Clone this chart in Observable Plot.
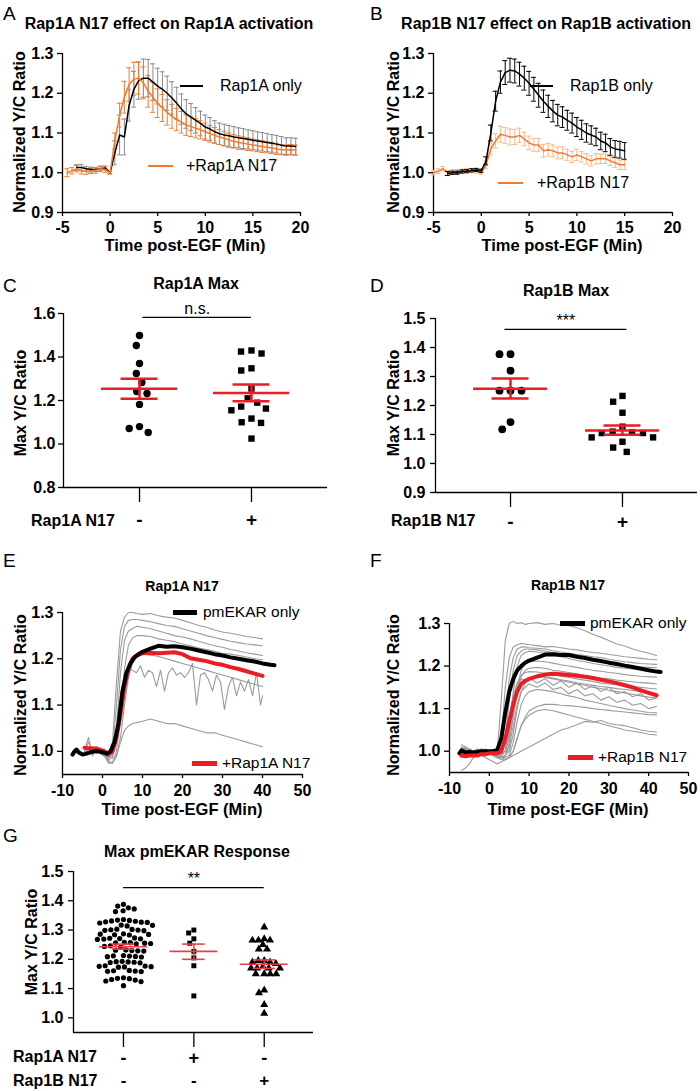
<!DOCTYPE html>
<html><head><meta charset="utf-8">
<script src="https://cdn.jsdelivr.net/npm/d3@7"></script>
<script src="https://cdn.jsdelivr.net/npm/@observablehq/plot@0.6"></script>
<style>
body{margin:0;background:#fff;}
#fig{position:relative;width:700px;height:1091px;background:#fff;font-family:"Liberation Sans",Arial,Helvetica,sans-serif;color:#000;overflow:hidden;}
.t{position:absolute;white-space:nowrap;transform:translate(-50%,-50%);line-height:1;}
.yl{position:absolute;white-space:nowrap;transform:translate(-50%,-50%) rotate(-90deg);line-height:1;font-weight:bold;font-size:16px;}
.lt{position:absolute;white-space:nowrap;transform:translate(0,-50%);line-height:1;}
</style></head><body><div id="fig"></div>
<script>
// ---------------- DATA ----------------
// Panel A: Rap1A only (black) and +Rap1A N17 (orange), mean ± SEM
const tA1 = [-3.5,-3,-2.5,-2,-1.5,-1,-0.5,0,0.5,1,1.5,2,2.5,3,3.5,4,4.5,5,5.5,6,6.5,7,7.5,8,8.5,9,9.5,10,10.5,11,11.5,12,12.5,13,13.5,14,14.5,15,15.5,16,16.5,17,17.5,18,18.5,19,19.5];
const yA1 = [1.013,1.013,1.01,1.008,1.008,1.01,1.012,1.0,1.05,1.095,1.09,1.17,1.21,1.232,1.238,1.238,1.228,1.218,1.21,1.2,1.188,1.175,1.16,1.148,1.14,1.132,1.124,1.115,1.11,1.103,1.098,1.095,1.093,1.09,1.088,1.086,1.084,1.082,1.08,1.078,1.076,1.074,1.072,1.069,1.067,1.067,1.066];
const eA1 = [0.007,0.008,0.006,0.006,0.005,0.005,0.005,0.003,0.03,0.05,0.045,0.04,0.045,0.047,0.048,0.047,0.046,0.045,0.044,0.043,0.041,0.04,0.038,0.036,0.034,0.032,0.031,0.03,0.029,0.028,0.027,0.027,0.026,0.026,0.025,0.025,0.024,0.024,0.023,0.023,0.023,0.022,0.022,0.022,0.021,0.021,0.021];
const tA2 = [-4.5,-4,-3.5,-3,-2.5,-2,-1.5,-1,-0.5,0,0.5,1,1.5,2,2.5,3,3.5,4,4.5,5,5.5,6,6.5,7,7.5,8,8.5,9,9.5,10,10.5,11,11.5,12,12.5,13,13.5,14,14.5,15,15.5,16,16.5,17,17.5,18,18.5,19,19.5];
const yA2 = [1.0,1.005,1.01,1.005,1.003,1.005,1.006,1.01,1.008,1.0,1.08,1.145,1.19,1.222,1.236,1.238,1.226,1.205,1.19,1.175,1.163,1.152,1.142,1.134,1.127,1.12,1.116,1.112,1.108,1.103,1.098,1.094,1.09,1.086,1.082,1.079,1.076,1.074,1.072,1.07,1.068,1.066,1.064,1.062,1.06,1.058,1.057,1.058,1.057];
const eA2 = [0.01,0.008,0.008,0.008,0.007,0.007,0.007,0.007,0.007,0.003,0.02,0.03,0.04,0.042,0.042,0.04,0.04,0.04,0.038,0.036,0.034,0.032,0.03,0.028,0.027,0.026,0.025,0.024,0.023,0.022,0.021,0.02,0.019,0.018,0.018,0.017,0.017,0.016,0.016,0.015,0.015,0.015,0.014,0.014,0.014,0.013,0.013,0.013,0.013];
// Panel B: Rap1B only (black) and +Rap1B N17 (orange)
const tB1 = [-3.5,-3,-2.5,-2,-1.5,-1,-0.5,0,0.5,1,1.5,2,2.5,3,3.5,4,4.5,5,5.5,6,6.5,7,7.5,8,8.5,9,9.5,10,10.5,11,11.5,12,12.5,13,13.5,14,14.5,15];
const yB1 = [0.998,1.0,1.0,1.003,1.004,1.006,1.007,1.005,1.03,1.1,1.18,1.228,1.252,1.258,1.256,1.248,1.238,1.225,1.21,1.195,1.18,1.167,1.155,1.145,1.14,1.132,1.125,1.115,1.108,1.1,1.095,1.09,1.08,1.075,1.065,1.06,1.058,1.055];
const eB1 = [0.005,0.004,0.004,0.004,0.004,0.004,0.004,0.004,0.01,0.02,0.025,0.028,0.03,0.03,0.03,0.03,0.03,0.03,0.03,0.03,0.028,0.028,0.027,0.027,0.026,0.025,0.025,0.024,0.024,0.023,0.023,0.022,0.022,0.022,0.021,0.021,0.021,0.021];
const tB2 = [-5,-4.5,-4,-3.5,-3,-2.5,-2,-1.5,-1,-0.5,0,0.5,1,1.5,2,2.5,3,3.5,4,4.5,5,5.5,6,6.5,7,7.5,8,8.5,9,9.5,10,10.5,11,11.5,12,12.5,13,13.5,14,14.5,15];
const yB2 = [1.0,1.004,1.01,1.0,1.002,1.003,1.004,1.005,1.005,1.004,1.0,1.02,1.06,1.08,1.097,1.094,1.09,1.09,1.094,1.085,1.075,1.07,1.07,1.055,1.058,1.055,1.05,1.05,1.045,1.04,1.045,1.04,1.035,1.03,1.035,1.035,1.035,1.03,1.025,1.02,1.02];
const eB2 = [0.006,0.006,0.006,0.006,0.006,0.005,0.005,0.005,0.005,0.005,0.004,0.01,0.015,0.018,0.02,0.02,0.02,0.019,0.018,0.017,0.017,0.016,0.016,0.016,0.016,0.015,0.015,0.015,0.014,0.014,0.014,0.013,0.013,0.013,0.013,0.012,0.012,0.012,0.012,0.012,0.012];

// Panels C, D: individual maxima, mean and SEM (read)
const catC = ["-", "+"];
const cMinus = [1.499,1.453,1.37,1.324,1.283,1.241,1.232,1.182,1.08,1.053,1.071];
const cPlus = [1.425,1.416,1.43,1.338,1.348,1.255,1.21,1.19,1.172,1.155,1.163,1.10,1.097,1.117,1.025];
const cMean = [1.254, 1.234], cHi = [1.300, 1.273], cLo = [1.208, 1.196];
const catD = ["-", "+"];
const dMinus = [1.377,1.377,1.32,1.251,1.251,1.251,1.143,1.118];
const dPlus = [1.233,1.213,1.175,1.127,1.105,1.11,1.105,1.108,1.075,1.09,1.09,1.04,1.055];
const dMean = [1.258, 1.114], dHi = [1.293, 1.131], dLo = [1.224, 1.099];

// Panel E: single-cell traces (grey), pmEKAR only (black), +Rap1A N17 (red)
const tE = [-4.5,-3.5,-2.5,-1.5,-0.5,0.5,1.5,2.5,3.5,4.5,5.5,6.5,7.5,8.5,10,12,14,16,18,20,22,24,26,28,30,32,34,36,38,40];
const eCell1 = [1.0,1.02,1.0,1.005,1.0,0.995,0.99,1.02,1.15,1.26,1.29,1.30,1.30,1.298,1.296,1.298,1.293,1.29,1.288,1.283,1.278,1.272,1.268,1.262,1.258,1.255,1.252,1.248,1.246,1.243];
const eCell2 = [1.005,1.0,1.01,1.0,1.0,0.998,0.985,1.0,1.10,1.22,1.27,1.283,1.285,1.285,1.283,1.28,1.276,1.272,1.27,1.265,1.26,1.255,1.25,1.246,1.242,1.238,1.235,1.232,1.23,1.228];
const eCell3 = [1.0,1.005,0.995,1.0,1.005,1.0,0.98,0.99,1.05,1.17,1.24,1.26,1.265,1.27,1.268,1.265,1.26,1.255,1.25,1.247,1.243,1.238,1.233,1.228,1.225,1.22,1.217,1.213,1.21,1.207];
const eCell4 = [0.995,1.0,1.0,0.995,1.0,0.995,0.975,0.975,1.0,1.08,1.18,1.23,1.245,1.25,1.25,1.248,1.243,1.24,1.237,1.232,1.228,1.223,1.22,1.216,1.212,1.21,1.207,1.204,1.2,1.198];
const eCell5 = [1.0,1.0,1.005,1.0,0.995,0.99,0.975,0.975,0.99,1.03,1.10,1.16,1.19,1.205,1.21,1.208,1.205,1.2,1.195,1.19,1.185,1.18,1.175,1.17,1.165,1.16,1.155,1.15,1.145,1.14];
const eCell7 = [1.0,0.995,1.0,1.0,0.995,0.99,0.98,0.975,0.99,1.02,1.045,1.055,1.06,1.062,1.065,1.07,1.065,1.06,1.06,1.055,1.05,1.045,1.04,1.04,1.035,1.03,1.025,1.02,1.015,1.01];
const tE6 = [-4.5,-3.5,-2.5,-1.5,-0.5,0.5,1.5,2.5,3.5,4.5,5.5,6.5,7.5,8.5,9.5,10.5,11.5,12.5,13.5,14.5,15.5,16.5,17.5,18.5,19.5,20.5,21.5,22.5,23.5,24.5,25.5,26.5,27.5,28.5,29.5,30.5,31.5,32.5,33.5,34.5,35.5,36.5,37.5,38.5,39.5,40];
const eCell6 = [1.0,1.03,0.99,1.01,1.0,1.005,0.99,0.985,1.03,1.12,1.17,1.18,1.175,1.17,1.185,1.16,1.175,1.17,1.14,1.175,1.13,1.17,1.18,1.165,1.17,1.16,1.17,1.19,1.10,1.165,1.17,1.155,1.13,1.165,1.15,1.09,1.14,1.16,1.12,1.15,1.13,1.155,1.12,1.17,1.10,1.12];
const tEk = [-7.5,-7,-6.5,-6,-5,-4,-3,-2,-1,0,1,2,3,4,5,6,7,8,9,10,12,14,16,18,20,22,24,26,28,30,32,34,36,38,40,42,43];
const eBlack = [0.993,1.0,1.004,0.998,0.993,0.995,0.998,1.0,1.0,0.998,0.995,1.0,1.02,1.06,1.13,1.17,1.19,1.203,1.21,1.215,1.222,1.228,1.226,1.227,1.225,1.222,1.218,1.214,1.21,1.207,1.203,1.2,1.197,1.194,1.19,1.187,1.186];
const eRed = [1.008,1.007,1.006,1.006,1.003,1.0,0.993,1.0,1.03,1.08,1.14,1.18,1.2,1.207,1.212,1.213,1.212,1.213,1.214,1.21,1.201,1.198,1.195,1.19,1.187,1.182,1.178,1.173,1.168,1.163];

// Panel F: single-cell traces (grey), pmEKAR only (black), +Rap1B N17 (red)
const tF = [-7,-6,-5,-4,-3,-2,-1,0,1,2,3,4,5,6,7,8,9,10,12,14,16,18,20,22,24,26,28,30,32,34,36,38,40,42];
const fCells = [
 [1.01,1.005,1.0,1.0,0.995,1.0,1.0,1.0,0.995,1.0,1.12,1.26,1.30,1.305,1.30,1.302,1.298,1.30,1.302,1.298,1.30,1.296,1.295,1.29,1.283,1.275,1.268,1.26,1.252,1.247,1.24,1.235,1.23,1.225],
 [1.015,1.01,1.005,1.0,1.0,1.005,1.0,1.0,0.995,0.995,1.03,1.15,1.22,1.245,1.25,1.253,1.252,1.25,1.248,1.245,1.246,1.243,1.24,1.238,1.235,1.232,1.23,1.227,1.225,1.222,1.22,1.218,1.216,1.215],
 [1.0,1.005,1.0,1.0,0.995,1.0,1.0,1.0,0.99,0.99,1.0,1.08,1.17,1.22,1.24,1.245,1.245,1.243,1.242,1.24,1.236,1.233,1.23,1.227,1.225,1.222,1.22,1.216,1.213,1.21,1.208,1.206,1.205,1.204],
 [0.99,0.995,1.0,1.0,1.0,0.995,1.0,1.0,0.995,0.99,0.995,1.03,1.12,1.19,1.225,1.235,1.24,1.24,1.238,1.235,1.232,1.228,1.226,1.222,1.218,1.215,1.212,1.208,1.205,1.203,1.2,1.198,1.197,1.196],
 [1.005,1.0,1.0,0.995,1.0,1.0,0.995,1.0,0.995,0.99,0.99,1.0,1.06,1.14,1.2,1.225,1.232,1.235,1.233,1.23,1.225,1.222,1.218,1.213,1.21,1.206,1.203,1.2,1.197,1.195,1.193,1.19,1.188,1.187],
 [1.0,1.0,0.995,1.0,1.005,1.0,1.0,0.995,0.99,0.985,0.99,1.0,1.03,1.09,1.15,1.19,1.205,1.21,1.212,1.21,1.207,1.203,1.2,1.197,1.193,1.19,1.188,1.185,1.183,1.18,1.178,1.176,1.175,1.174],
 [0.995,1.0,1.005,1.0,1.0,0.995,1.0,1.0,0.995,0.99,0.985,0.99,1.02,1.08,1.14,1.175,1.19,1.195,1.197,1.195,1.19,1.188,1.185,1.182,1.178,1.175,1.172,1.17,1.167,1.165,1.163,1.161,1.16,1.158],
 [1.0,0.995,1.0,1.0,0.995,1.0,1.005,1.0,0.995,0.99,0.99,1.0,1.05,1.12,1.16,1.178,1.185,1.187,1.186,1.183,1.18,1.176,1.173,1.17,1.167,1.164,1.16,1.158,1.156,1.154,1.152,1.15,1.148,1.146],
 [1.005,1.0,1.0,0.995,1.0,1.0,1.0,0.995,0.99,0.985,0.985,0.99,1.0,1.04,1.1,1.14,1.16,1.17,1.176,1.175,1.172,1.168,1.165,1.16,1.158,1.155,1.152,1.15,1.147,1.145,1.143,1.14,1.138,1.136],
 [1.0,1.01,0.995,1.0,1.005,0.995,1.0,1.0,0.99,0.99,0.995,1.02,1.08,1.13,1.16,1.17,1.165,1.172,1.16,1.17,1.155,1.165,1.15,1.16,1.145,1.155,1.14,1.15,1.135,1.14,1.128,1.135,1.12,1.125],
 [0.99,1.0,1.005,1.0,0.995,1.0,0.99,0.995,0.99,0.985,0.985,0.99,1.01,1.06,1.11,1.14,1.15,1.158,1.15,1.16,1.145,1.15,1.135,1.145,1.13,1.135,1.12,1.128,1.115,1.12,1.108,1.112,1.1,1.105],
 [1.0,0.995,1.0,1.0,1.0,1.005,1.0,1.0,0.995,0.99,0.985,0.985,0.99,1.02,1.07,1.11,1.13,1.14,1.145,1.143,1.14,1.135,1.13,1.126,1.12,1.116,1.112,1.108,1.104,1.1,1.097,1.094,1.091,1.09],
 [1.005,1.0,0.995,1.0,1.0,1.0,0.995,1.0,0.995,0.99,0.985,0.98,0.985,1.0,1.03,1.06,1.08,1.095,1.105,1.11,1.11,1.108,1.107,1.105,1.103,1.1,1.098,1.096,1.094,1.092,1.09,1.088,1.086,1.085],
 [1.0,1.005,1.0,0.995,1.0,1.0,1.0,0.995,0.99,0.985,0.98,0.98,0.985,1.0,1.03,1.06,1.075,1.085,1.095,1.098,1.095,1.09,1.085,1.08,1.075,1.07,1.065,1.06,1.055,1.05,1.047,1.044,1.04,1.038],
 [1.01,1.005,1.0,1.0,0.995,0.99,0.985,0.98,0.975,0.97,0.975,0.98,0.985,0.99,0.995,1.0,1.005,1.01,1.02,1.03,1.04,1.05,1.055,1.062,1.07,1.068,1.072,1.065,1.062,1.06,1.055,1.05,1.047,1.045],
 [0.955,0.96,0.97,0.985,0.995,1.0,1.0,0.995,0.99,0.985,0.99,1.0,1.04,1.1,1.14,1.16,1.168,1.172,1.175,1.173,1.17,1.166,1.162,1.158,1.155,1.15,1.147,1.143,1.14,1.137,1.134,1.13,1.127,1.125]
];
const tFk = [-7.5,-7,-6,-5,-4,-3,-2,-1,0,1,2,3,4,5,6,7,8,9,10,12,14,16,18,20,22,24,26,28,30,32,34,36,38,40,42,43];
const fBlack = [0.995,1.002,0.997,0.998,0.997,0.998,1.0,1.0,1.0,1.0,1.003,1.03,1.09,1.14,1.17,1.19,1.2,1.208,1.213,1.22,1.227,1.228,1.226,1.226,1.222,1.219,1.215,1.212,1.208,1.205,1.201,1.198,1.194,1.19,1.187,1.186];
const fRed = [0.99,0.988,0.99,0.99,0.99,0.993,0.993,0.995,0.995,0.995,1.0,1.03,1.07,1.11,1.14,1.158,1.165,1.17,1.176,1.18,1.182,1.181,1.179,1.177,1.175,1.172,1.168,1.164,1.16,1.155,1.15,1.143,1.137,1.131];

// Panel G: max pmEKAR response per cell
const gRowA = ["-", "+", "-"];
const gRowB = ["-", "-", "+"];
const g1 = [1.388,1.382,1.376,1.372,1.366,1.363,1.336,1.333,1.331,1.328,1.326,1.324,1.327,1.33,1.334,1.316,1.314,1.317,1.302,1.3,1.298,1.301,1.303,1.299,1.287,1.285,1.283,1.286,1.284,1.272,1.27,1.268,1.271,1.269,1.273,1.257,1.255,1.253,1.256,1.254,1.258,1.246,1.244,1.242,1.232,1.23,1.228,1.231,1.229,1.212,1.21,1.208,1.211,1.209,1.213,1.192,1.19,1.188,1.191,1.189,1.193,1.177,1.175,1.173,1.176,1.174,1.178,1.162,1.16,1.158,1.161,1.159,1.137,1.135,1.134,1.131,1.129,1.126,1.124,1.11];
const g2 = [1.30,1.29,1.27,1.255,1.227,1.205,1.178,1.075];
const g3 = [1.31,1.27,1.265,1.265,1.265,1.25,1.235,1.235,1.195,1.195,1.19,1.19,1.185,1.175,1.17,1.17,1.17,1.17,1.15,1.15,1.15,1.15,1.095,1.085,1.045,1.015];
const gMean = [1.243, 1.227, 1.183], gHi = [1.252, 1.252, 1.198], gLo = [1.235, 1.200, 1.169];

// tick values
const ticksTimeAB = [-5,0,5,10,15,20];
const ticksRatioAB = [0.9,1.0,1.1,1.2,1.3];
const ticksC = [0.8,1.0,1.2,1.4,1.6];
const ticksD = [0.9,1.0,1.1,1.2,1.3,1.4,1.5];
const ticksTimeEF = [-10,0,10,20,30,40,50];
const ticksRatioEF = [1.0,1.1,1.2,1.3];
const ticksG = [1.0,1.1,1.2,1.3,1.4,1.5];

// ---------------- HELPERS ----------------
const fig = document.getElementById("fig");
const FONT = '"Liberation Sans", Arial, Helvetica, sans-serif';
const RED = "#ec1c24", ORANGE = "#f27a2e", ORANGE_LIGHT = "#f7b98a", GREY = "#9b9b9b";
const fmt1 = d3.format(".1f");
const fmtInt = d => String(d);
const baseStyle = {fontFamily: FONT, fontSize: "16px", fontWeight: "bold", background: "transparent", overflow: "visible", color: "#000"};

function place(svg, left, top) {
  svg.style.position = "absolute"; svg.style.left = left + "px"; svg.style.top = top + "px";
  fig.appendChild(svg);
}
function text(s, x, y, size, weight = "bold", cls = "t") {
  const el = document.createElement("div");
  el.className = cls; el.textContent = s;
  el.style.left = x + "px"; el.style.top = y + "px";
  el.style.fontSize = size + "px"; el.style.fontWeight = weight;
  fig.appendChild(el);
}
function ylabel(s, x, y) {
  const el = document.createElement("div");
  el.className = "yl"; el.textContent = s;
  el.style.left = x + "px"; el.style.top = y + "px";
  fig.appendChild(el);
}
function letter(s, x, y) {
  const el = document.createElement("div");
  el.className = "lt"; el.textContent = s;
  el.style.left = x + "px"; el.style.top = y + "px"; el.style.fontSize = "19px";
  fig.appendChild(el);
}
function legend(x1, x2, y, tx, color, thick, label, size) {
  const ln = document.createElement("div");
  ln.style.cssText = `position:absolute;left:${x1}px;top:${y - thick / 2}px;width:${x2 - x1}px;height:${thick}px;background:${color}`;
  fig.appendChild(ln);
  const el = document.createElement("div");
  el.className = "lt"; el.textContent = label;
  el.style.left = tx + "px"; el.style.top = y + "px"; el.style.fontSize = size + "px";
  fig.appendChild(el);
}
const series = (t, y, e) => t.map((x, i) => ({t: x, y: y[i], e: e ? e[i] : 0}));
const longTraces = (t, arrs) => arrs.flatMap((a, k) => a.map((v, i) => ({k, t: t[i], v})));

function errMarks(data, color, cap, width = 1) {
  return [
    Plot.ruleX(data, {x: "t", y1: d => d.y - d.e, y2: d => d.y + d.e, stroke: color, strokeWidth: width}),
    Plot.ruleY(data, {y: d => d.y + d.e, x1: d => d.t - cap, x2: d => d.t + cap, stroke: color, strokeWidth: width}),
    Plot.ruleY(data, {y: d => d.y - d.e, x1: d => d.t - cap, x2: d => d.t + cap, stroke: color, strokeWidth: width})
  ];
}
function axes(xDom, yDom, xTicks, yTicks, xFmt, yFmt, xt, yt) {
  return [
    Plot.ruleY([yDom[0]], {stroke: "#000", strokeWidth: 1.3}),
    Plot.ruleX([xDom[0]], {stroke: "#000", strokeWidth: 1.3}),
    Plot.axisX(xTicks, {tickFormat: xFmt, tickSize: xt[0], tickPadding: xt[1], label: null, fontSize: xt[2] || 16, fontWeight: "bold", strokeWidth: 1.3}),
    Plot.axisY(yTicks, {tickFormat: yFmt, tickSize: yt[0], tickPadding: yt[1], label: null, fontSize: 16, fontWeight: "bold", strokeWidth: 1.3})
  ];
}
// simple beeswarm: returns horizontal pixel offsets so that dots do not overlap
function swarm(vals, pxPerUnitY, d) {
  const order = d3.range(vals.length).sort((a, b) => d3.descending(vals[a], vals[b]));
  const placed = [], out = new Array(vals.length);
  for (const i of order) {
    const y = vals[i] * pxPerUnitY;
    const near = placed.filter(p => Math.abs(p.y - y) < d);
    const cands = [0];
    for (const p of near) { const dx = Math.sqrt(d * d - (p.y - y) ** 2); cands.push(p.x + dx, p.x - dx); }
    cands.sort((a, b) => Math.abs(a) - Math.abs(b) || a - b);
    const x = cands.find(c => near.every(p => (p.x - c) ** 2 + (p.y - y) ** 2 >= d * d - 1e-6));
    placed.push({x, y}); out[i] = x;
  }
  return out;
}
function swarmData(groups, pxX, pxY, d) {
  const pts = [];
  groups.forEach((vals, g) => {
    const off = swarm(vals, pxY, d);
    vals.forEach((v, i) => pts.push({g, x: g + off[i] / pxX, y: v}));
  });
  return pts;
}
function statMarks(mean, hi, lo, hw, cw, color, w) {
  const s = mean.map((m, g) => ({g, m, hi: hi[g], lo: lo[g]}));
  return [
    Plot.ruleX(s, {x: "g", y1: "lo", y2: "hi", stroke: color, strokeWidth: w}),
    Plot.ruleY(s, {y: "m", x1: d => d.g - hw, x2: d => d.g + hw, stroke: color, strokeWidth: w}),
    Plot.ruleY(s, {y: "hi", x1: d => d.g - cw, x2: d => d.g + cw, stroke: color, strokeWidth: w}),
    Plot.ruleY(s, {y: "lo", x1: d => d.g - cw, x2: d => d.g + cw, stroke: color, strokeWidth: w})
  ];
}
function sigMarks(from, to, level, label) {
  const s = [{from, to, level, label}];
  return [
    Plot.ruleY(s, {y: "level", x1: "from", x2: "to", stroke: "#000", strokeWidth: 1.3}),
    Plot.text(s, {x: d => (d.from + d.to) / 2, y: "level", text: "label", dy: -9, fontSize: 16, fontWeight: "normal", lineAnchor: "middle"})
  ];
}

// ---------------- PANEL A ----------------
{
  const xD = [-5, 20], yD = [0.9, 1.3];
  const s1 = series(tA1, yA1, eA1), s2 = series(tA2, yA2, eA2);
  place(Plot.plot({
    width: 320, height: 210, marginLeft: 62, marginRight: 20, marginTop: 13, marginBottom: 38,
    x: {domain: xD}, y: {domain: yD}, style: baseStyle,
    marks: [
      ...axes(xD, yD, ticksTimeAB, ticksRatioAB, fmtInt, fmt1, [4, 5], [5, 4]),
      ...errMarks(s1, "#8a8a8a", 0.26),
      ...errMarks(s2, ORANGE, 0.26),
      Plot.line(s1, {x: "t", y: "y", stroke: "#000", strokeWidth: 1.5}),
      Plot.line(s2, {x: "t", y: "y", stroke: ORANGE, strokeWidth: 1.5})
    ]
  }), 0, 40);
}
// ---------------- PANEL B ----------------
{
  const xD = [-5, 20], yD = [0.9, 1.3];
  const s1 = series(tB1, yB1, eB1), s2 = series(tB2, yB2, eB2);
  place(Plot.plot({
    width: 350, height: 210, marginLeft: 83, marginRight: 28, marginTop: 13, marginBottom: 38,
    x: {domain: xD}, y: {domain: yD}, style: baseStyle,
    marks: [
      ...axes(xD, yD, ticksTimeAB, ticksRatioAB, fmtInt, fmt1, [4, 5], [5, 4]),
      ...errMarks(s2, ORANGE_LIGHT, 0.26),
      Plot.line(s2, {x: "t", y: "y", stroke: ORANGE, strokeWidth: 1.5}),
      ...errMarks(s1, "#000", 0.26),
      Plot.line(s1, {x: "t", y: "y", stroke: "#000", strokeWidth: 1.5})
    ]
  }), 350, 40);
}
// ---------------- PANEL C ----------------
{
  const xD = [-0.679, 1.679], yD = [0.8, 1.6];
  const W = 340, H = 240, ml = 63, mr = 13, mt = 13, mb = 53;
  const pxX = (W - ml - mr) / (xD[1] - xD[0]), pxY = (H - mt - mb) / (yD[1] - yD[0]);
  const pts = swarmData([cMinus, cPlus], pxX, pxY, 10.5);
  place(Plot.plot({
    width: W, height: H, marginLeft: ml, marginRight: mr, marginTop: mt, marginBottom: mb,
    x: {domain: xD}, y: {domain: yD}, style: baseStyle,
    marks: [
      ...axes(xD, yD, [0, 1], ticksC, i => catC[i], fmt1, [15, 10, 19], [5, 3]),
      Plot.dot(pts.filter(d => d.g === 0), {x: "x", y: "y", r: 3.7, fill: "#000", symbol: "circle"}),
      Plot.dot(pts.filter(d => d.g === 1), {x: "x", y: "y", r: 3.6, fill: "#000", symbol: "square"}),
      ...statMarks(cMean, cHi, cLo, 0.34, 0.165, RED, 2.5),
      ...sigMarks(0.03, 1, yD[1] - 0.0225 * (yD[1] - yD[0]), "n.s.")
    ]
  }), 0, 300);
}
// ---------------- PANEL D ----------------
{
  const xD = [-0.67, 1.67], yD = [0.9, 1.5];
  const W = 350, H = 240, ml = 85, mr = 3, mt = 18, mb = 48;
  const pxX = (W - ml - mr) / (xD[1] - xD[0]), pxY = (H - mt - mb) / (yD[1] - yD[0]);
  const pts = swarmData([dMinus, dPlus], pxX, pxY, 11);
  place(Plot.plot({
    width: W, height: H, marginLeft: ml, marginRight: mr, marginTop: mt, marginBottom: mb,
    x: {domain: xD}, y: {domain: yD}, style: baseStyle,
    marks: [
      ...axes(xD, yD, [0, 1], ticksD, i => catD[i], fmt1, [15, 7, 19], [5, 5]),
      Plot.dot(pts.filter(d => d.g === 0), {x: "x", y: "y", r: 3.9, fill: "#000", symbol: "circle"}),
      Plot.dot(pts.filter(d => d.g === 1), {x: "x", y: "y", r: 3.6, fill: "#000", symbol: "square"}),
      ...statMarks(dMean, dHi, dLo, 0.33, 0.165, RED, 2.5),
      ...sigMarks(-0.05, 1.04, yD[1] - 0.063 * (yD[1] - yD[0]), "***")
    ]
  }), 350, 300);
}
// ---------------- PANEL E ----------------
{
  const xD = [-10, 50], yD = [0.95, 1.3];
  const grey = longTraces(tE, [eCell1, eCell2, eCell3, eCell4, eCell5, eCell7]);
  const noisy = tE6.map((t, i) => ({t, v: eCell6[i]}));
  place(Plot.plot({
    width: 330, height: 240, marginLeft: 62, marginRight: 28, marginTop: 22, marginBottom: 56,
    x: {domain: xD}, y: {domain: yD}, style: baseStyle,
    marks: [
      ...axes(xD, yD, ticksTimeEF, ticksRatioEF, fmtInt, fmt1, [4, 6], [5, 4]),
      Plot.line(grey, {x: "t", y: "v", z: "k", stroke: GREY, strokeWidth: 1.1}),
      Plot.line(noisy, {x: "t", y: "v", stroke: GREY, strokeWidth: 1.1}),
      Plot.line(series(tE, eRed), {x: "t", y: "y", stroke: RED, strokeWidth: 4, strokeLinejoin: "round"}),
      Plot.line(series(tEk, eBlack), {x: "t", y: "y", stroke: "#000", strokeWidth: 4, strokeLinejoin: "round"})
    ]
  }), 0, 590);
}
// ---------------- PANEL F ----------------
{
  const xD = [-10, 50], yD = [0.95, 1.3];
  const grey = longTraces(tF, fCells);
  place(Plot.plot({
    width: 350, height: 230, marginLeft: 99, marginRight: 12, marginTop: 23, marginBottom: 58,
    x: {domain: xD}, y: {domain: yD}, style: baseStyle,
    marks: [
      ...axes(xD, yD, ticksTimeEF, ticksRatioEF, fmtInt, fmt1, [4, 6], [5, 4]),
      Plot.line(grey, {x: "t", y: "v", z: "k", stroke: GREY, strokeWidth: 1.1}),
      Plot.line(series(tFk, fBlack), {x: "t", y: "y", stroke: "#000", strokeWidth: 4, strokeLinejoin: "round"}),
      Plot.line(series(tF, fRed), {x: "t", y: "y", stroke: RED, strokeWidth: 4, strokeLinejoin: "round"})
    ]
  }), 350, 600);
}
// ---------------- PANEL G ----------------
{
  const xD = [-0.71, 2.70], yD = [0.95, 1.5];
  const W = 330, H = 231, ml = 73, mr = 17, mt = 11, mb = 59;
  const pxX = (W - ml - mr) / (xD[1] - xD[0]), pxY = (H - mt - mb) / (yD[1] - yD[0]);
  const pts = swarmData([g1, g2, g3], pxX, pxY, 6);
  place(Plot.plot({
    width: W, height: H, marginLeft: ml, marginRight: mr, marginTop: mt, marginBottom: mb,
    x: {domain: xD}, y: {domain: yD}, style: baseStyle,
    marks: [
      ...axes(xD, yD, [0, 1, 2], ticksG, i => gRowA[i], fmt1, [15, 4, 18], [5, 5]),
      Plot.axisX([0, 1, 2], {tickFormat: i => gRowB[i], tickSize: 0, tickPadding: 41, label: null, fontSize: 17, fontWeight: "bold"}),
      Plot.dot(pts.filter(d => d.g === 0), {x: "x", y: "y", r: 2.6, fill: "#000", symbol: "circle"}),
      Plot.dot(pts.filter(d => d.g === 1), {x: "x", y: "y", r: 2.8, fill: "#000", symbol: "square"}),
      Plot.dot(pts.filter(d => d.g === 2), {x: "x", y: "y", r: 3.0, fill: "#000", symbol: "triangle"}),
      ...statMarks(gMean, gHi, gLo, 0.34, 0.16, "#e8404a", 1.6),
      ...sigMarks(0, 2, yD[1] - 0.1 * (yD[1] - yD[0]), "**")
    ]
  }), 0, 860);
}

// ---------------- TEXT ----------------
letter("A", 3, 13); letter("B", 370, 13);
letter("C", 3, 285); letter("D", 370, 285);
letter("E", 3, 560); letter("F", 370, 560);
letter("G", 3, 835);

text("Rap1A N17 effect on Rap1A activation", 169, 24, 16);
text("Rap1B N17 effect on Rap1B activation", 546, 24, 16);
text("Rap1A Max", 196, 284, 16);
text("Rap1B Max", 566, 291, 16);
text("Rap1A N17", 182, 586, 14);
text("Rap1B N17", 568, 585, 14);
text("Max pmEKAR Response", 197, 852, 16);

text("Time post-EGF (Min)", 185, 245, 16.5);
text("Time post-EGF (Min)", 562, 245, 16.5);
text("Time post-EGF (Min)", 182, 809, 16.5);
text("Time post-EGF (Min)", 568, 809, 16.5);

ylabel("Normalized Y/C Ratio", 20, 132);
ylabel("Normalized Y/C Ratio", 394, 132);
ylabel("Max Y/C Ratio", 21, 403);
ylabel("Max Y/C Ratio", 394, 403);
ylabel("Normalized Y/C Ratio", 21, 695);
ylabel("Normalized Y/C Ratio", 394, 695);
ylabel("Max Y/C Ratio", 32, 942);

text("Rap1A N17", 31, 521, 16, "bold", "lt");
text("Rap1B N17", 391, 521, 16, "bold", "lt");
text("Rap1A N17", 13, 1057, 16, "bold", "lt");
text("Rap1B N17", 13, 1081, 16, "bold", "lt");

legend(180, 203, 86, 220, "#000", 1.5, "Rap1A only", 16);
legend(148, 173, 166, 186, ORANGE, 1.5, "+Rap1A N17", 16);
legend(530, 553, 86, 570, "#000", 1.5, "Rap1B only", 16);
legend(498, 523, 183, 537, ORANGE, 1.5, "+Rap1B N17", 16);
legend(173, 197, 612, 203, "#000", 5, "pmEKAR only", 15.5);
legend(192, 217, 763, 222, RED, 5, "+Rap1A N17", 15.5);
legend(560, 585, 623, 590, "#000", 5, "pmEKAR only", 15.5);
legend(568, 593, 757, 598, RED, 5, "+Rap1B N17", 15.5);
</script></body></html>
